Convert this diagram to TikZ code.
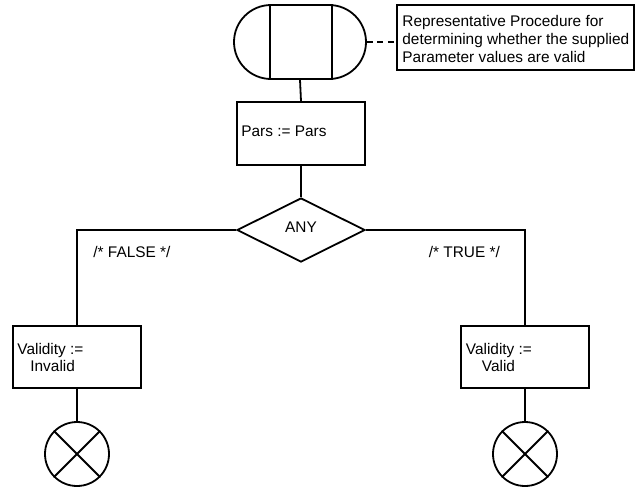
\documentclass[tikz,border=0pt]{standalone}
\usepackage{fontspec}
\setmainfont{Liberation Sans}
\usetikzlibrary{shapes.geometric,shapes.misc,calc}

\begin{document}
\begin{tikzpicture}[x=1pt,y=-1pt,
  line width=1.8pt,
  every node/.style={font=\fontsize{15.4}{17.7}\selectfont},
  txt/.style={anchor=base west,inner sep=0pt},
  ctxt/.style={anchor=base,inner sep=0pt},
  actionbox/.style={draw,rectangle,inner sep=0pt,minimum width=128pt,minimum height=62pt},
  decision/.style={draw,diamond,inner sep=0pt,minimum width=128pt,minimum height=64pt},
  terminator/.style={draw,rounded rectangle,rounded rectangle arc length=180,inner sep=0pt,minimum width=132pt,minimum height=74pt},
  endmark/.style={draw,circle,inner sep=0pt,minimum size=64pt},
  notebox/.style={draw,rectangle,inner sep=0pt,minimum width=237pt,minimum height=65pt},
  notelink/.style={dashed,dash pattern=on 6pt off 4.5pt}
]
\useasboundingbox (0,0) rectangle (636,488);

% start symbol with its inner bars
\node[terminator] (start) at (300,42) {};
\draw ($(start.north)+(-30,0)$) -- ($(start.south)+(-30,0)$);
\draw ($(start.north)+(32,0)$) -- ($(start.south)+(32,0)$);

% comment box
\node[notebox] (note) at (515.5,37.5) {};
\node[txt] (n1) at (401.5,26.7) {Representative Procedure for};
\node[txt] (n2) at (401.5,44.4) {determining whether the supplied};
\node[txt] (n3) at (401.5,62.1) {Parameter values are valid};
\draw[notelink] (start.east) -- (start.east -| note.west);

% assignment
\node[actionbox,minimum height=63pt] (pars) at (301,133.5) {};
\node[txt] (parstext) at (240.5,136.7) {Pars := Pars};

% decision
\node[decision] (dec) at (301,230) {};
\node[ctxt] (any) at (301,232.7) {ANY};

% branches
\node[actionbox] (fbox) at (77,357) {};
\node[txt] (f1) at (16.5,354.5) {Validity :=};
\node[txt] (f2) at (29.5,371.5) {Invalid};
\node[actionbox] (tbox) at (525,357) {};
\node[txt] (t1) at (465,354.5) {Validity :=};
\node[txt] (t2) at (481,371.5) {Valid};

\node[txt] (flab) at (92.5,257) {/* FALSE */};
\node[txt] (tlab) at (428,257) {/* TRUE */};

% end symbols
\node[endmark] (fend) at (77,454) {};
\draw (fend.north west) -- (fend.south east) (fend.north east) -- (fend.south west);
\node[endmark] (tend) at (525,454) {};
\draw (tend.north west) -- (tend.south east) (tend.north east) -- (tend.south west);

% connectors
\draw (start.south) -- (pars.north);
\draw (pars.south) -- (dec.north);
\draw (dec.west) -| (fbox.north);
\draw (dec.east) -| (tbox.north);
\draw (fbox.south) -- (fend.north);
\draw (tbox.south) -- (tend.north);
\end{tikzpicture}
\end{document}
